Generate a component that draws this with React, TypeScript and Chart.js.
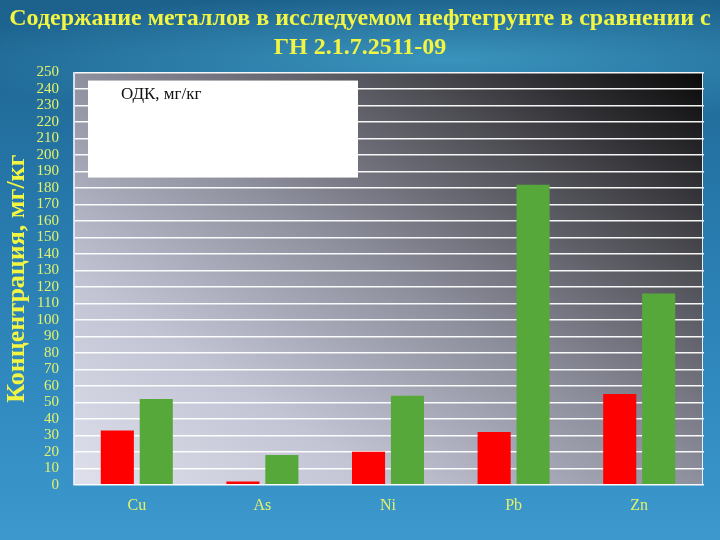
import React, { useEffect, useRef } from 'react';
import { Chart, registerables } from 'chart.js';

Chart.register(...registerables);

const metals = ['Cu', 'As', 'Ni', 'Pb', 'Zn'];
const soilValues = [33, 2, 20, 32, 55];
const limitValues = [52, 18, 54, 182, 116];
const titleLines = ['Содержание металлов в исследуемом нефтегрунте в сравнении с', 'ГН 2.1.7.2511-09'];
const yAxisTitle = 'Концентрация, мг/кг';
const legendTitle = 'ОДК, мг/кг';

const yellow = '#f2f542';
const tickYellow = '#e4f26a';

// gradient behind the plot area: light bottom-left corner, black top-right corner,
// the other two corners at the same mid grey
const plotBackground = {
  id: 'plotBackground',
  beforeDraw(chart: Chart) {
    const { ctx, chartArea } = chart;
    const { left, right, top, bottom } = chartArea;
    const w = right - left;
    const h = bottom - top;
    const s = (2 * w * h) / (w * w + h * h);
    const g = ctx.createLinearGradient(left, bottom, left + h * s, bottom - w * s);
    g.addColorStop(0, '#dfe0ec');
    g.addColorStop(0.25, '#c2c4d4');
    g.addColorStop(0.5, '#8f909e');
    g.addColorStop(0.75, '#4f4f56');
    g.addColorStop(1, '#0a0a0a');
    ctx.save();
    ctx.fillStyle = g;
    ctx.fillRect(left, top, w, h);
    ctx.restore();
  }
};

// the white legend box with only its title left in it
const legendBox = {
  id: 'legendBox',
  afterDatasetsDraw(chart: Chart) {
    const { ctx, chartArea } = chart;
    const x = chartArea.left + 14;
    const y = chartArea.top + 8;
    ctx.save();
    ctx.fillStyle = '#ffffff';
    ctx.fillRect(x, y, 270, 97);
    ctx.fillStyle = '#111111';
    ctx.font = '17px "Liberation Serif", serif';
    ctx.textBaseline = 'middle';
    ctx.fillText(legendTitle, x + 33, y + 14);
    ctx.restore();
  }
};

const App: React.FC = () => {
  const chartRef = useRef<HTMLCanvasElement | null>(null);
  const chartInstance = useRef<Chart | null>(null);

  useEffect(() => {
    if (!chartRef.current) return;
    if (chartInstance.current) chartInstance.current.destroy();
    const ctx = chartRef.current.getContext('2d');
    if (!ctx) return;

    chartInstance.current = new Chart(ctx, {
      type: 'bar',
      data: {
        labels: metals,
        datasets: [
          {
            label: 'Нефтегрунт',
            data: soilValues,
            backgroundColor: '#ff0000',
            categoryPercentage: 0.62,
            barPercentage: 0.85
          },
          {
            label: 'ОДК',
            data: limitValues,
            backgroundColor: '#57a83a',
            categoryPercentage: 0.62,
            barPercentage: 0.85
          }
        ]
      },
      options: {
        responsive: false,
        maintainAspectRatio: false,
        animation: false,
        layout: { padding: { left: 0, right: 0, top: 0, bottom: 14 } },
        plugins: {
          legend: { display: false },
          tooltip: { enabled: false },
          title: {
            display: true,
            text: titleLines,
            color: yellow,
            font: { family: '"Liberation Serif", serif', size: 24, weight: 'bold', lineHeight: 1.22 },
            padding: { top: 4, bottom: 10 }
          }
        },
        scales: {
          x: {
            grid: { display: false, drawTicks: false },
            border: { display: false },
            ticks: {
              color: tickYellow,
              padding: 11,
              font: { family: '"Liberation Serif", serif', size: 16 }
            }
          },
          y: {
            min: 0,
            max: 250,
            afterFit(scale: any) {
              scale.width = 74;
            },
            ticks: {
              stepSize: 10,
              autoSkip: false,
              color: tickYellow,
              padding: 15,
              font: { family: '"Liberation Serif", serif', size: 15, lineHeight: 1 }
            },
            grid: { color: 'rgba(255,255,255,0.95)', lineWidth: 1.6, drawTicks: false },
            border: { color: 'rgba(235,238,255,0.85)', width: 2 },
            title: {
              display: true,
              text: yAxisTitle,
              color: yellow,
              font: { family: '"Liberation Serif", serif', size: 26, weight: 'bold' },
              padding: { top: 2, bottom: 0 }
            }
          },
          yRight: {
            position: 'right',
            min: 0,
            max: 250,
            afterFit(scale: any) {
              scale.width = 18;
            },
            ticks: { display: false, stepSize: 10, autoSkip: false },
            grid: {
              drawOnChartArea: false,
              drawTicks: true,
              tickLength: 2,
              color: 'rgba(255,255,255,0.9)',
              lineWidth: 1.6
            },
            border: { color: 'rgba(255,255,255,0.9)', width: 1 }
          }
        }
      },
      plugins: [plotBackground, legendBox]
    });

    return () => {
      if (chartInstance.current) {
        chartInstance.current.destroy();
        chartInstance.current = null;
      }
    };
  }, []);

  return (
    <div
      style={{
        position: 'fixed',
        left: 0,
        top: 0,
        width: 720,
        height: 540,
        background:
          'radial-gradient(ellipse 70% 12% at 62% 11%, rgba(90,200,235,0.45), rgba(90,200,235,0) 100%), linear-gradient(180deg, #1c618c 0%, #2677a9 35%, #3089be 70%, #3c98cd 100%)'
      }}
    >
      <canvas ref={chartRef} width={720} height={540} style={{ display: 'block' }} />
    </div>
  );
};

export default App;
